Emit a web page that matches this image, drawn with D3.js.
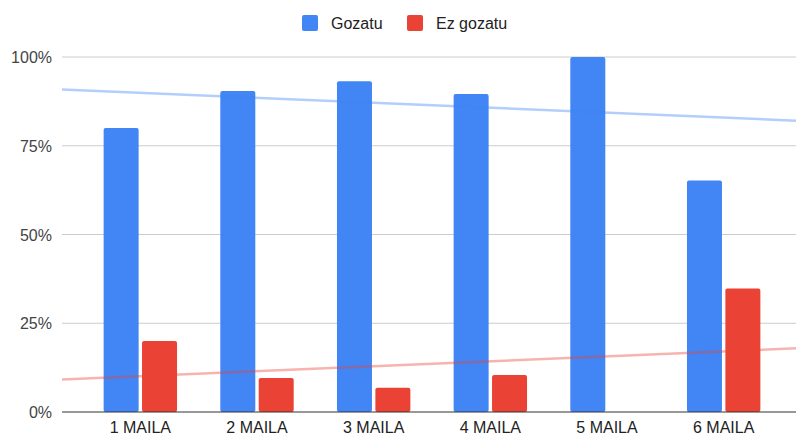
<!DOCTYPE html>
<html>
<head>
<meta charset="utf-8">
<script src="https://cdn.jsdelivr.net/npm/d3@7"></script>
<style>
  body { margin: 0; background: #fff; }
  text { font-family: "Liberation Sans", Arial, sans-serif; }
</style>
</head>
<body>
<svg id="chart"></svg>
<script>
let categories = ["1 MAILA", "2 MAILA", "3 MAILA", "4 MAILA", "5 MAILA", "6 MAILA"];
let gozatu = [80, 90.4, 93.2, 89.6, 100, 65.2];
let ezGozatu = [20, 9.6, 6.8, 10.4, 0, 34.8];
let seriesNames = ["Gozatu", "Ez gozatu"];
let yTicks = [0, 25, 50, 75, 100];

let colors = ["#4285f4", "#ea4335"];
let svgWidth = 796, svgHeight = 437;
let plotLeft = 62, plotRight = 796, plotTop = 57, plotBottom = 412;

let svg = d3.select("#chart")
    .attr("width", svgWidth)
    .attr("height", svgHeight);

let x = d3.scaleBand().domain(categories).range([82, 782]);
let xt = d3.scaleLinear().domain([0.5, 6.5]).range([82, 782]);
let y = d3.scaleLinear().domain([0, 100]).range([plotBottom, plotTop]);

// gridlines
svg.selectAll(".grid")
    .data(yTicks.filter(function(d){ return d > 0; }))
    .enter().append("line")
    .attr("x1", plotLeft).attr("x2", plotRight)
    .attr("y1", function(d){ return y(d); })
    .attr("y2", function(d){ return y(d); })
    .attr("stroke", "#cccccc")
    .attr("stroke-width", 1);

// y labels
svg.selectAll(".ylab")
    .data(yTicks)
    .enter().append("text")
    .attr("x", 52)
    .attr("y", function(d){ return y(d) + 6; })
    .attr("text-anchor", "end")
    .attr("font-size", "16px")
    .attr("fill", "#444")
    .text(function(d){ return d + "%"; });

// bars
let barW = 35, gap = 3.4;
let series = [gozatu, ezGozatu];
series.forEach(function(vals, s) {
    svg.selectAll(".bar" + s)
        .data(categories)
        .enter().append("rect")
        .attr("x", function(d){
            let c = x(d) + x.bandwidth() / 2;
            return s === 0 ? c - gap / 2 - barW : c + gap / 2;
        })
        .attr("y", function(d, i){ return y(vals[i]); })
        .attr("width", barW)
        .attr("height", function(d, i){ return y(0) - y(vals[i]); })
        .attr("rx", 2)
        .attr("fill", colors[s]);
});

// trendlines (least squares)
function fit(vals) {
    let n = vals.length, mx = (n + 1) / 2, my = d3.mean(vals);
    let sxy = 0, sxx = 0;
    vals.forEach(function(v, i){ sxy += (i + 1 - mx) * (v - my); sxx += (i + 1 - mx) * (i + 1 - mx); });
    let b = sxy / sxx;
    return function(t){ return my + b * (t - mx); };
}
series.forEach(function(vals, s) {
    let f = fit(vals);
    let t0 = xt.invert(plotLeft), t1 = xt.invert(plotRight);
    svg.append("line")
        .attr("x1", plotLeft).attr("x2", plotRight)
        .attr("y1", y(f(t0))).attr("y2", y(f(t1)))
        .attr("stroke", colors[s])
        .attr("stroke-opacity", 0.4)
        .attr("stroke-width", 2.5);
});

// baseline
svg.append("line")
    .attr("x1", plotLeft).attr("x2", plotRight)
    .attr("y1", y(0)).attr("y2", y(0))
    .attr("stroke", "#333").attr("stroke-width", 1);

// x labels
svg.selectAll(".xlab")
    .data(categories)
    .enter().append("text")
    .attr("x", function(d){ return x(d) + x.bandwidth() / 2; })
    .attr("y", 433)
    .attr("text-anchor", "middle")
    .attr("font-size", "16px")
    .attr("fill", "#222")
    .text(function(d){ return d; });

// legend
let legendX = [302, 407];
seriesNames.forEach(function(name, s) {
    svg.append("rect")
        .attr("x", legendX[s]).attr("y", 15)
        .attr("width", 16).attr("height", 16)
        .attr("rx", 2)
        .attr("fill", colors[s]);
    svg.append("text")
        .attr("x", legendX[s] + 29).attr("y", 29)
        .attr("font-size", "16px")
        .attr("fill", "#222")
        .text(name);
});
</script>
</body>
</html>
